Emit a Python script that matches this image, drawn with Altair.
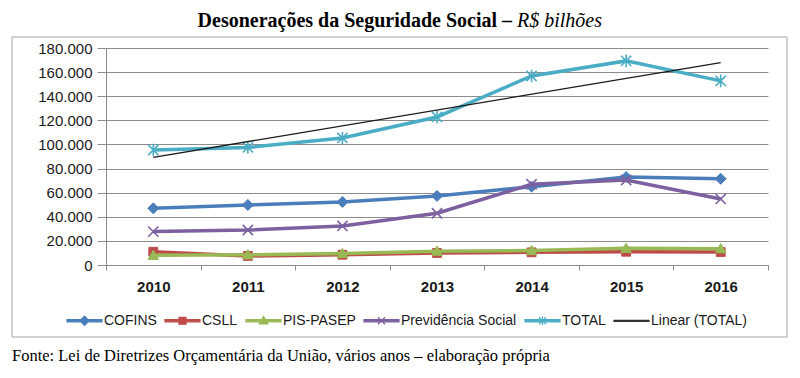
import altair as alt
import pandas as pd

# ---------------- data ----------------
years = [2010, 2011, 2012, 2013, 2014, 2015, 2016]
cofins = [47000, 49800, 52300, 57300, 65000, 73000, 71500]
csll = [11000, 7500, 8500, 10000, 10500, 11000, 10800]
pis_pasep = [8000, 8500, 9500, 11500, 12000, 13800, 13500]
previdencia = [27700, 29000, 32400, 42900, 67000, 70500, 54800]
total = [95400, 97500, 105400, 122800, 156800, 169300, 152700]

series_names = ["COFINS", "CSLL", "PIS-PASEP", "Previdência Social", "TOTAL"]
trend_name = "Linear (TOTAL)"
y_ticks = [0, 20000, 40000, 60000, 80000, 100000, 120000, 140000, 160000, 180000]

title_main = "Desonerações da Seguridade Social –"
title_unit = "R$ bilhões"
footer = "Fonte: Lei de Diretrizes Orçamentária da União, vários anos – elaboração própria"

# ---------------- styles ----------------
colors = ["#4A7EBB", "#BE4B48", "#98B954", "#7D60A0", "#4BACC6"]
trend_color = "#1a1a1a"
grid_gray = "#8c8c8c"

# plot markers (custom paths, unit = sqrt(size)/2)
plot_shapes = [
    "M0,-1L1,0L0,1L-1,0Z",
    "M-0.8,-0.8H0.8V0.8H-0.8Z",
    "M0,-0.95L0.95,0.75H-0.95Z",
    "M-0.85,-0.85L0.85,0.85M-0.85,0.85L0.85,-0.85",
    "M-0.85,-0.85L0.85,0.85M-0.85,0.85L0.85,-0.85M0,-1.05V1.05",
]
plot_filled = [True, True, True, False, False]

# legend symbols: line segment + marker (unit = 17.5px)
line_seg = "M-1,-0.06H1V0.06H-1Z"
legend_shapes = [
    line_seg + "M0,-0.26L0.26,0L0,0.26L-0.26,0Z",
    line_seg + "M-0.2,-0.2H0.2V0.2H-0.2Z",
    line_seg + "M0,-0.25L0.25,0.18H-0.25Z",
    line_seg + "M-0.2,-0.2L0.2,0.2M-0.2,0.2L0.2,-0.2",
    line_seg + "M-0.2,-0.2L0.2,0.2M-0.2,0.2L0.2,-0.2M0,-0.26V0.26",
    "M-1,-0.03H1V0.03H-1Z",
]

rows = []
for name, vals in zip(series_names, [cofins, csll, pis_pasep, previdencia, total]):
    for yr, v in zip(years, vals):
        rows.append({"ano": yr, "valor": v, "serie": name})
df = pd.DataFrame(rows)

x_enc = alt.X(
    "ano:O",
    bandPosition=0.5,
    scale=alt.Scale(type="band", paddingInner=0, paddingOuter=0, domain=years),
    axis=alt.Axis(
        title=None, labelAngle=0, grid=False, tickBand="extent",
        domainColor=grid_gray, tickColor=grid_gray, tickSize=5,
        labelPadding=9, labelFont="Liberation Sans", labelFontSize=15,
        labelFontWeight="bold", labelColor="#1a1a1a",
    ),
)
y_enc = alt.Y(
    "valor:Q",
    scale=alt.Scale(domain=[0, 180000], nice=False),
    axis=alt.Axis(
        title=None, values=y_ticks, grid=True, gridColor=grid_gray, gridWidth=1,
        domainColor=grid_gray, tickColor=grid_gray, tickSize=9, labelPadding=5,
        labelFont="Liberation Sans", labelFontSize=15, labelColor="#1a1a1a",
        labelExpr="replace(format(datum.value, ','), regexp(',', 'g'), '.')",
    ),
)

layers = []
for i, name in enumerate(series_names):
    base = alt.Chart(df).transform_filter(alt.datum.serie == name)
    layers.append(base.mark_line(color=colors[i], strokeWidth=3.5).encode(x=x_enc, y=y_enc))
    if plot_filled[i]:
        pm = base.mark_point(shape=plot_shapes[i], size=121, filled=True, color=colors[i],
                             stroke=colors[i], strokeWidth=1, opacity=1)
    else:
        pm = base.mark_point(shape=plot_shapes[i], size=144, filled=False, color=colors[i],
                             strokeWidth=1.6, opacity=1)
    layers.append(pm.encode(x=x_enc, y=y_enc))

trend = (
    alt.Chart(df)
    .transform_filter(alt.datum.serie == "TOTAL")
    .transform_regression("ano", "valor")
    .mark_line(color=trend_color, strokeWidth=1.3)
    .encode(x=x_enc, y=y_enc)
)
layers.append(trend)

legend_domain = series_names + [trend_name]
legend_colors = colors + ["#333333"]
leg = alt.Legend(
    title=None, orient="none", legendX=-40, legendY=254, direction="horizontal",
    columns=6, symbolSize=1225, symbolStrokeWidth=1.2, labelFont="Liberation Sans",
    labelFontSize=14, labelColor="#1a1a1a", labelOffset=1, columnPadding=5,
    symbolOpacity=1,
)
legend_df = pd.DataFrame({"serie": legend_domain})
legend_layer = alt.Chart(legend_df).mark_point(filled=True, size=1225, strokeWidth=1.2).encode(
    x=alt.value(-700), y=alt.value(-700),
    fill=alt.Fill("serie:N", scale=alt.Scale(domain=legend_domain, range=legend_colors), legend=leg),
    stroke=alt.Stroke("serie:N", scale=alt.Scale(domain=legend_domain, range=legend_colors), legend=leg),
    shape=alt.Shape("serie:N", scale=alt.Scale(domain=legend_domain, range=legend_shapes), legend=leg),
)
layers.append(legend_layer)

one = pd.DataFrame({"k": [0]})
border = alt.Chart(one).mark_rect(fill="transparent", stroke="#a6a6a6", strokeWidth=1).encode(
    x=alt.value(-94), x2=alt.value(681), y=alt.value(-11), y2=alt.value(289)
)
t1 = alt.Chart(one).mark_text(
    align="right", baseline="middle", font="Liberation Serif", fontSize=20,
    fontWeight="bold", color="#000000"
).encode(x=alt.value(406), y=alt.value(-27), text=alt.value(title_main))
t2 = alt.Chart(one).mark_text(
    align="left", baseline="middle", font="Liberation Serif", fontSize=20,
    fontStyle="italic", color="#000000"
).encode(x=alt.value(411), y=alt.value(-27), text=alt.value(title_unit))
foot = alt.Chart(one).mark_text(
    align="left", baseline="middle", font="Liberation Serif", fontSize=16.5, color="#000000"
).encode(x=alt.value(-94), y=alt.value(308), text=alt.value(footer))

chart = (
    alt.layer(border, *layers, t1, t2, foot)
    .properties(
        width=662, height=217,
        autosize=alt.AutoSizeParams(type="none"),
        padding={"left": 98, "top": 40, "right": 24, "bottom": 100},
    )
    .configure_view(stroke=None)
)

chart.save("out.html", embed_options={"renderer": "svg", "actions": False})
